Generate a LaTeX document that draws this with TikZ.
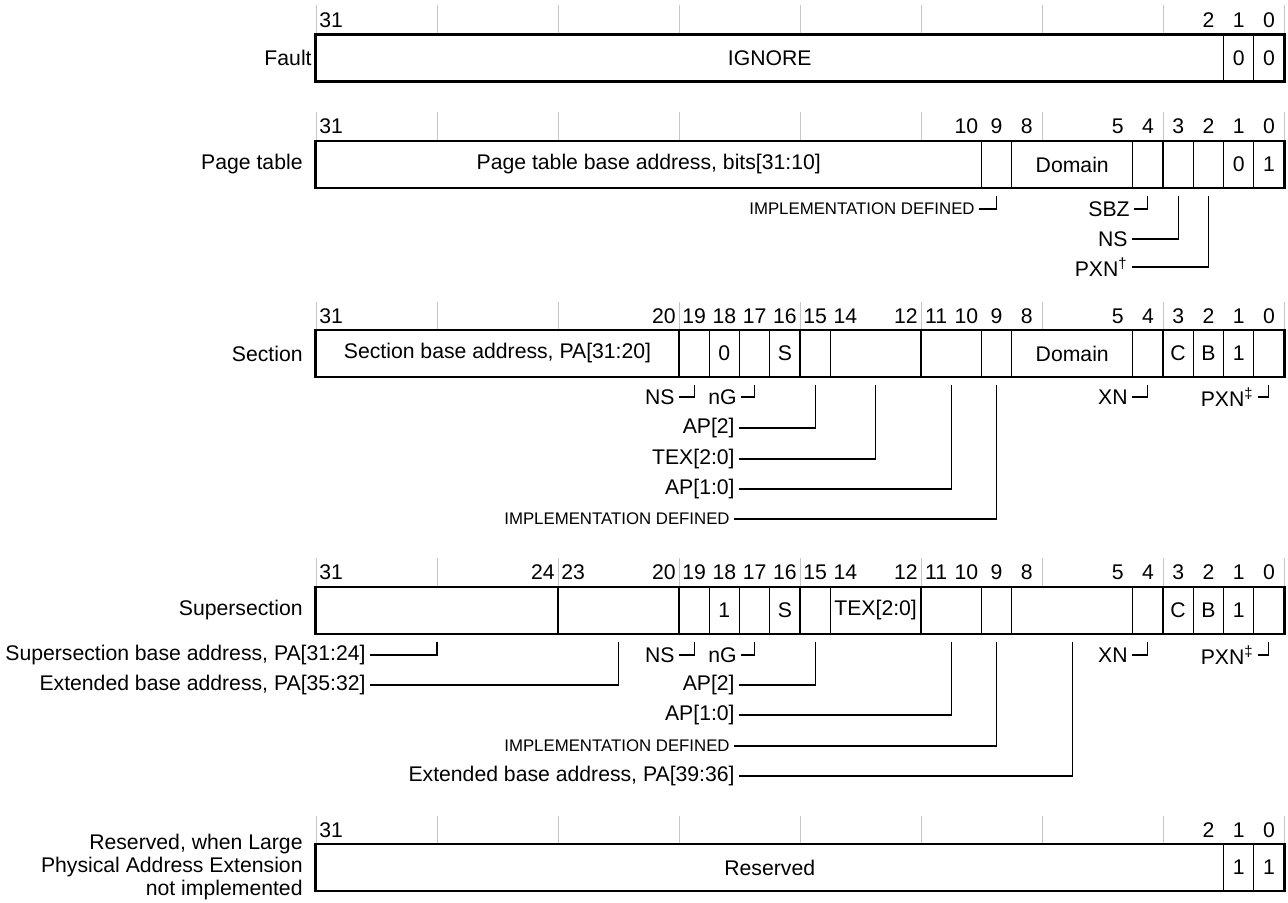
\documentclass[tikz,border=0pt]{standalone}
\usepackage{fontspec}
\setmainfont{Liberation Sans}

\begin{document}
\begin{tikzpicture}[
  x=0.5pt, y=-0.5pt,
  declare function={bx(\b)=316+(31-\b)*30.25+15.125;
                    fx(\h,\l)=316+(31-\h)*30.25+(\h-\l+1)*15.125;},
  field/.style   = {draw, line width=0.7pt, inner sep=0pt, minimum height=22.75pt,
                    font=\fontsize{10.6}{12}\selectfont},
  frame/.style   = {line width=1.1pt},
  bitnum/.style  = {inner sep=0pt, font=\fontsize{10.6}{12}\selectfont},
  tick/.style    = {gray!45, line width=0.4pt},
  conn/.style    = {line width=0.6pt},
  lbl/.style     = {anchor=east, inner xsep=2pt, inner ysep=0pt,
                    font=\fontsize{10.6}{12}\selectfont},
  impl/.style    = {lbl, font=\fontsize{8.4}{10}\selectfont},
  rowname/.style = {anchor=east, inner sep=0pt, align=right,
                    font=\fontsize{10.6}{11.5}\selectfont},
]
  \useasboundingbox (0,0) rectangle (1288,903);

  % ---- Fault
  \node[rowname] (fault) at (312,58) {Fault};
  \foreach \k in {0,...,8} \draw[tick] ({316+\k*121},5) -- ({316+\k*121},35);
  \foreach \b in {31,2,1,0} \node[bitnum] (fltb\b) at ({bx(\b)},20) {\b};
  \foreach \h/\l/\t in {31/2/IGNORE, 1/1/0, 0/0/0}
    \node[field, minimum width={(\h-\l+1)*15.125pt}] (flt\l) at ({fx(\h,\l)},58) {\t};
  \draw[frame] (flt2.north west) rectangle (flt0.south east);

  % ---- Page table
  \node[rowname] (page) at (303,164.5) {Page table};
  \foreach \k in {0,...,8} \draw[tick] ({316+\k*121},112) -- ({316+\k*121},141.5);
  \foreach \b in {31,10,9,8,5,4,3,2,1,0} \node[bitnum] (ptb\b) at ({bx(\b)},126) {\b};
  \foreach \h/\l/\t in {31/10/{Page table base address, bits[31:10]}, 9/9/{}, 8/5/Domain,
                        4/4/{}, 3/3/{}, 2/2/{}, 1/1/0, 0/0/1}
    \node[field, minimum width={(\h-\l+1)*15.125pt}] (pt\l) at ({fx(\h,\l)},164.5) {\t};
  \draw[frame] (pt10.north west) rectangle (pt0.south east);

  \node[impl] (ptimp) at (979,209) {IMPLEMENTATION DEFINED};
  \node[lbl]  (ptsbz) at (1134,209) {SBZ};
  \node[lbl]  (ptns)  at (1132,239) {NS};
  \node[lbl]  (ptpxn) at (1132,267) {PXN\textsuperscript{†}};
  \draw[conn] ([yshift=-4pt]pt9.south) |- (ptimp.east);
  \draw[conn] ([yshift=-4pt]pt4.south) |- (ptsbz.east);
  \draw[conn] ([yshift=-4pt]pt3.south) |- (ptns.east);
  \draw[conn] ([yshift=-4pt]pt2.south) |- (ptpxn.east);

  % ---- Section
  \node[rowname] (sect) at (303,353.5) {Section};
  \foreach \k in {0,...,8} \draw[tick] ({316+\k*121},302) -- ({316+\k*121},331);
  \foreach \b in {31,20,19,18,17,16,15,14,12,11,10,9,8,5,4,3,2,1,0}
    \node[bitnum] (scb\b) at ({bx(\b)},316) {\b};
  \foreach \h/\l/\t in {31/20/{Section base address, PA[31:20]}, 19/19/{}, 18/18/0, 17/17/{},
                        16/16/S, 15/15/{}, 14/12/{}, 11/10/{}, 9/9/{}, 8/5/Domain, 4/4/{},
                        3/3/C, 2/2/B, 1/1/1, 0/0/{}}
    \node[field, minimum width={(\h-\l+1)*15.125pt}] (sc\l) at ({fx(\h,\l)},353.5) {\t};
  \draw[frame] (sc20.north west) rectangle (sc0.south east);

  \node[lbl]  (scns)  at (679,397) {NS};
  \node[lbl]  (scng)  at (741,397) {nG};
  \node[lbl]  (scap2) at (739,428) {AP[2]};
  \node[lbl]  (sctex) at (739,459) {TEX[2:0]};
  \node[lbl]  (scap)  at (739,489) {AP[1:0]};
  \node[impl] (scimp) at (734,519) {IMPLEMENTATION DEFINED};
  \node[lbl]  (scxn)  at (1132,397) {XN};
  \node[lbl]  (scpxn) at (1258,397) {PXN\textsuperscript{‡}};
  \draw[conn] ([yshift=-4pt]sc19.south) |- (scns.east);
  \draw[conn] ([yshift=-4pt]sc17.south) |- (scng.east);
  \draw[conn] ([yshift=-4pt]sc15.south) |- (scap2.east);
  \draw[conn] ([yshift=-4pt]sc12.south) |- (sctex.east);
  \draw[conn] ([yshift=-4pt]sc10.south) |- (scap.east);
  \draw[conn] ([yshift=-4pt]sc9.south)  |- (scimp.east);
  \draw[conn] ([yshift=-4pt]sc4.south)  |- (scxn.east);
  \draw[conn] ([yshift=-4pt]sc0.south)  |- (scpxn.east);

  % ---- Supersection
  \node[rowname] (super) at (303,610.5) {Supersection};
  \foreach \k in {0,...,8} \draw[tick] ({316+\k*121},558) -- ({316+\k*121},588);
  \foreach \b in {31,24,23,20,19,18,17,16,15,14,12,11,10,9,8,5,4,3,2,1,0}
    \node[bitnum] (ssb\b) at ({bx(\b)},572) {\b};
  \foreach \h/\l/\t in {31/24/{}, 23/20/{}, 19/19/{}, 18/18/1, 17/17/{}, 16/16/S, 15/15/{},
                        14/12/{TEX[2:0]}, 11/10/{}, 9/9/{}, 8/5/{}, 4/4/{},
                        3/3/C, 2/2/B, 1/1/1, 0/0/{}}
    \node[field, minimum width={(\h-\l+1)*15.125pt}] (ss\l) at ({fx(\h,\l)},610.5) {\t};
  \draw[frame] (ss24.north west) rectangle (ss0.south east);

  \node[lbl]  (ssbase) at (370,655) {Supersection base address, PA[31:24]};
  \node[lbl]  (ssext)  at (370,685) {Extended base address, PA[35:32]};
  \node[lbl]  (ssns)   at (679,655) {NS};
  \node[lbl]  (ssng)   at (741,655) {nG};
  \node[lbl]  (ssap2)  at (739,685) {AP[2]};
  \node[lbl]  (ssap)   at (739,715) {AP[1:0]};
  \node[impl] (ssimp)  at (734,746) {IMPLEMENTATION DEFINED};
  \node[lbl]  (ssxtd)  at (739,776) {Extended base address, PA[39:36]};
  \node[lbl]  (ssxn)   at (1132,655) {XN};
  \node[lbl]  (sspxn)  at (1258,655) {PXN\textsuperscript{‡}};
  \draw[conn] ([yshift=-4pt]ss24.south) |- (ssbase.east);
  \draw[conn] ([yshift=-4pt]ss20.south) |- (ssext.east);
  \draw[conn] ([yshift=-4pt]ss19.south) |- (ssns.east);
  \draw[conn] ([yshift=-4pt]ss17.south) |- (ssng.east);
  \draw[conn] ([yshift=-4pt]ss15.south) |- (ssap2.east);
  \draw[conn] ([yshift=-4pt]ss10.south) |- (ssap.east);
  \draw[conn] ([yshift=-4pt]ss9.south)  |- (ssimp.east);
  \draw[conn] ([yshift=-4pt]ss5.south)  |- (ssxtd.east);
  \draw[conn] ([yshift=-4pt]ss4.south)  |- (ssxn.east);
  \draw[conn] ([yshift=-4pt]ss0.south)  |- (sspxn.east);

  % ---- Reserved
  \node[rowname] (resv) at (303,867.5)
    {Reserved, when Large\\Physical Address Extension\\not implemented};
  \foreach \k in {0,...,8} \draw[tick] ({316+\k*121},816) -- ({316+\k*121},845);
  \foreach \b in {31,2,1,0} \node[bitnum] (rsb\b) at ({bx(\b)},830) {\b};
  \foreach \h/\l/\t in {31/2/Reserved, 1/1/1, 0/0/1}
    \node[field, minimum width={(\h-\l+1)*15.125pt}] (rs\l) at ({fx(\h,\l)},867.5) {\t};
  \draw[frame] (rs2.north west) rectangle (rs0.south east);
\end{tikzpicture}
\end{document}
